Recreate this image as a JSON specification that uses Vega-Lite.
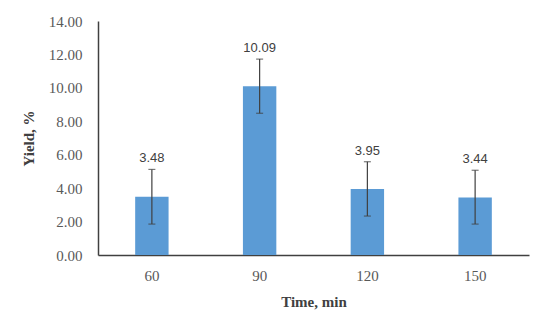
{
  "$schema": "https://vega.github.io/schema/vega-lite/v6.json",
  "width": 431,
  "height": 234,
  "autosize": {"type": "none"},
  "padding": {"left": 98, "top": 21, "right": 21, "bottom": 75},
  "background": "white",
  "config": {
    "view": {"stroke": null},
    "axis": {
      "grid": false,
      "ticks": false,
      "labelOverlap": false,
      "labelFont": "Liberation Serif",
      "labelFontSize": 15,
      "labelColor": "#595959",
      "domainColor": "#404040",
      "domainWidth": 1.5,
      "titleFont": "Liberation Serif",
      "titleFontSize": 15,
      "titleFontWeight": "bold",
      "titleColor": "#404040"
    }
  },
  "data": {
    "values": [
      {"time": "60", "yield": 3.48, "lo": 1.85, "hi": 5.12},
      {"time": "90", "yield": 10.09, "lo": 8.48, "hi": 11.72},
      {"time": "120", "yield": 3.95, "lo": 2.33, "hi": 5.58},
      {"time": "150", "yield": 3.44, "lo": 1.85, "hi": 5.07}
    ]
  },
  "encoding": {
    "x": {
      "field": "time",
      "type": "ordinal",
      "sort": null,
      "scale": {"paddingInner": 0.69, "paddingOuter": 0.345},
      "axis": {
        "title": "Time, min",
        "labelAngle": 0,
        "labelPadding": 13,
        "titlePadding": 11
      }
    }
  },
  "layer": [
    {
      "mark": {"type": "bar", "color": "#5B9BD5"},
      "encoding": {
        "y": {
          "field": "yield",
          "type": "quantitative",
          "title": "Yield, %",
          "scale": {"domain": [0, 14]},
          "axis": {
            "values": [0, 2, 4, 6, 8, 10, 12, 14],
            "format": ".2f",
            "labelPadding": 16,
            "titleX": -62,
            "titleY": 117
          }
        }
      }
    },
    {
      "mark": {
        "type": "errorbar",
        "ticks": {"size": 7, "color": "#404040", "thickness": 1.2},
        "rule": {"color": "#404040", "strokeWidth": 1.2}
      },
      "encoding": {
        "y": {
          "field": "lo",
          "type": "quantitative",
          "title": "Yield, %",
          "axis": {
            "values": [0, 2, 4, 6, 8, 10, 12, 14],
            "format": ".2f",
            "labelPadding": 16,
            "titleX": -62,
            "titleY": 117
          }
        },
        "y2": {"field": "hi"}
      }
    },
    {
      "mark": {
        "type": "text",
        "baseline": "alphabetic",
        "dy": -7,
        "font": "Liberation Sans",
        "fontSize": 13,
        "color": "#404040"
      },
      "encoding": {
        "y": {
          "field": "hi",
          "type": "quantitative",
          "title": "Yield, %",
          "axis": {
            "values": [0, 2, 4, 6, 8, 10, 12, 14],
            "format": ".2f",
            "labelPadding": 16,
            "titleX": -62,
            "titleY": 117
          }
        },
        "text": {"field": "yield", "type": "quantitative", "format": ".2f"}
      }
    }
  ]
}
